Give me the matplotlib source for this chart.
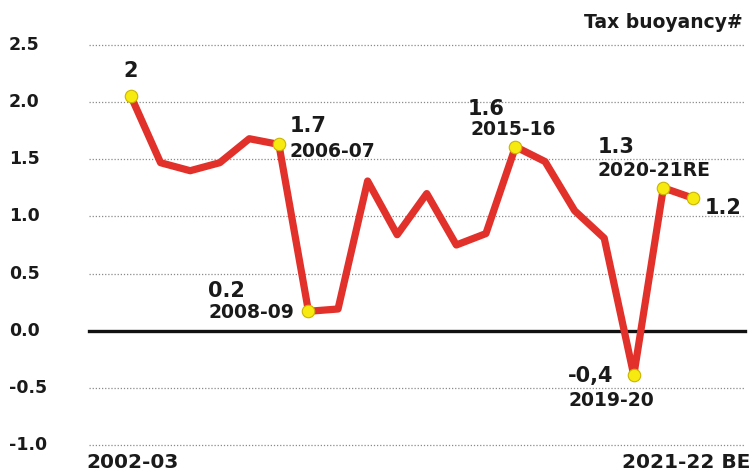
import matplotlib
matplotlib.use("Agg")
import matplotlib.pyplot as plt

# tax buoyancy by year
years = ["2002-03", "2003-04", "2004-05", "2005-06", "2006-07", "2007-08",
         "2008-09", "2009-10", "2010-11", "2011-12", "2012-13", "2013-14",
         "2014-15", "2015-16", "2016-17", "2017-18", "2018-19", "2019-20",
         "2020-21RE", "2021-22 BE"]
buoyancy = [2.05, 1.47, 1.40, 1.47, 1.68, 1.63, 0.17, 0.19, 1.31, 0.84,
            1.20, 0.75, 0.85, 1.61, 1.48, 1.05, 0.81, -0.39, 1.25, 1.16]

# highlighted points: (index, value label, year label)
highlights = [(0, "2", None), (5, "1.7", "2006-07"), (6, "0.2", "2008-09"),
              (13, "1.6", "2015-16"), (17, "-0,4", "2019-20"),
              (18, "1.3", "2020-21RE"), (19, "1.2", None)]

y_ticks = [2.5, 2.0, 1.5, 1.0, 0.5, 0.0, -0.5, -1.0]

plt.rcParams['font.family'] = ['DejaVu Sans']
plt.rcParams['font.weight'] = 'bold'

fig = plt.figure(figsize=(7.55, 4.74), dpi=100)
ax = fig.add_axes([89 / 755, 29 / 474, 656 / 755, 400 / 474])

x = list(range(len(years)))
ax.plot(x, buoyancy, color='#e2302a', lw=5.2, solid_joinstyle='round',
        solid_capstyle='round', zorder=3)
hx = [h[0] for h in highlights]
ax.plot(hx, [buoyancy[i] for i in hx], ls='none', marker='o', ms=9,
        mfc='#f7ea10', mec='#c9b400', mew=0.8, zorder=4)

ax.set_xlim(-1.42, 20.76)
ax.set_ylim(-1.0, 2.5)
for t in y_ticks:
    if t == 0:
        ax.axhline(t, color='#111111', lw=2.4, zorder=2, clip_on=False)
    else:
        ax.axhline(t, color='#8a8a8a', lw=0.9, ls=(0, (1, 1.5)), zorder=1,
                   clip_on=False)

for s in ax.spines.values():
    s.set_visible(False)
ax.set_xticks([])
ax.set_yticks([])

# y tick labels sit at the far left of the figure
for t in y_ticks:
    ax.annotate(f"{t:.1f}", xy=(0, t), xycoords=('figure fraction', 'data'),
                xytext=(9, 0), textcoords='offset pixels', ha='left',
                va='center', fontsize=12.5, color='#1a1a1a')

# value and year labels: offsets in pixels from the point
offsets = {
    0: ((0, 25), None, 'center'),
    5: ((11, 18), (11, -7), 'left'),
    6: ((-100, 20), (-100, -1), 'left'),
    13: ((-48, 38), (-45, 17), 'left'),
    17: ((-66, -1), (-65, -25), 'left'),
    18: ((-66, 41), (-66, 17), 'left'),
    19: ((12, -10), None, 'left'),
}
for i, val_txt, year_txt in highlights:
    off_v, off_y, ha = offsets[i]
    ax.annotate(val_txt, xy=(i, buoyancy[i]), xytext=off_v,
                textcoords='offset pixels', ha=ha, va='center',
                fontsize=15, color='#1a1a1a')
    if year_txt:
        ax.annotate(year_txt, xy=(i, buoyancy[i]), xytext=off_y,
                    textcoords='offset pixels', ha=ha, va='center',
                    fontsize=13.5, color='#1a1a1a')

fig.text(743 / 755, 1 - 22 / 474, "Tax buoyancy#", ha='right', va='center',
         fontsize=13.5, color='#1a1a1a')
fig.text(86 / 755, 1 - 463 / 474, years[0], ha='left', va='center',
         fontsize=14.5, color='#1a1a1a')
fig.text(750 / 755, 1 - 463 / 474, years[-1], ha='right', va='center',
         fontsize=14.5, color='#1a1a1a')

fig.savefig("out.png", dpi=100, facecolor='white')
